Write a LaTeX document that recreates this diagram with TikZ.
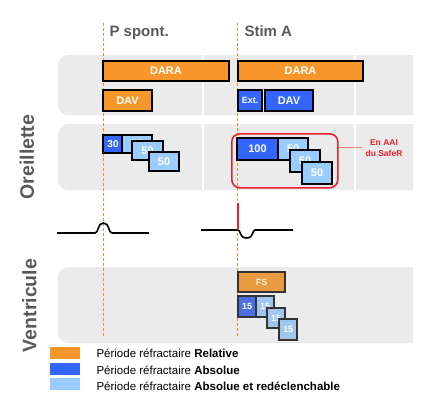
\documentclass[tikz,border=0pt]{standalone}
\usepackage{fontspec}
\setmainfont{Liberation Sans}
\usetikzlibrary{positioning}
\definecolor{relorange}{HTML}{F7962A}
\definecolor{absblue}{HTML}{3366FF}
\definecolor{retrig}{HTML}{99CCFF}
\definecolor{vorange}{HTML}{E99B42}
\definecolor{vblue}{HTML}{4A6FE0}
\definecolor{vlight}{HTML}{A0C6EE}
\definecolor{bandgray}{HTML}{EBEBEB}
\definecolor{labgray}{HTML}{595959}
\definecolor{aaired}{HTML}{E8212B}
\definecolor{markorange}{HTML}{F08A2A}

\begin{document}
\begin{tikzpicture}[x=1pt, y=-1pt,
  period/.style={draw=black, line width=1.4pt, inner sep=0pt, outer sep=0pt,
    anchor=north west, text=white},
  relbox/.style={period, fill=relorange, font=\bfseries\fontsize{11}{13}\selectfont},
  absbox/.style={period, fill=absblue, font=\bfseries\fontsize{11}{13}\selectfont},
  trigbox/.style={period, fill=retrig, font=\bfseries\fontsize{11}{13}\selectfont},
  vbox/.style={period, draw=black!80, font=\bfseries\fontsize{9}{11}\selectfont},
  band/.style={fill=bandgray, rounded corners=10pt},
  divider/.style={white, line width=1.5pt},
  dashmark/.style={fill=markorange},
  ecg/.style={black, line width=1.6pt},
  event/.style={anchor=base west, text=labgray, font=\bfseries\fontsize{15}{17}\selectfont},
  chamber/.style={rotate=90, text=labgray, font=\bfseries\fontsize{19.5}{22}\selectfont},
  swatch/.style={inner sep=0pt, minimum width=30, minimum height=12, anchor=north west},
  legtext/.style={anchor=base west, font=\fontsize{11.5}{13}\selectfont}
]
  \useasboundingbox (0,0) rectangle (438,408);
  % grey bands, cut off at the right
  \begin{scope}
    \clip (0,0) rectangle (413,408);
    \fill[band] (58,55) rectangle (430,115);
    \fill[band] (58,124) rectangle (430,190);
    \fill[band] (58,267) rectangle (430,343);
  \end{scope}
  \draw[divider] (203,55) -- (203,115);
  \draw[divider] (355,55) -- (355,115);
  \draw[divider] (203,124) -- (203,190);
  \draw[divider] (355,124) -- (355,190);
  % event markers (orange dashes)
  \foreach \xx in {103.5,237.5} {
    \foreach \yy in {23,28,...,335} {
      \fill[dashmark] (\xx-0.5,\yy) rectangle (\xx+0.5,\yy+3);
    }
  }
  \node[event] (pspont) at (106,36) {P spont.};
  \node[event] (stima) at (241,36) {Stim A};
  % chamber labels
  \node[chamber] (oreil) at (27,157) {Oreillette};
  \node[chamber] (ventr) at (29.5,305.5) {Ventricule};
  % atrium: DARA / DAV
  \node[relbox, minimum width=126, minimum height=20] (daraP) at (103,61) {DARA};
  \node[relbox, minimum width=125, minimum height=20] (daraS) at (238,61) {DARA};
  \node[relbox, minimum width=49, minimum height=21] (davP) at (103,90) {DAV};
  \node[absbox, minimum width=24, minimum height=21, font=\bfseries\fontsize{9}{11}\selectfont] (ext) at (238,90) {Ext.};
  \node[absbox, minimum width=48, minimum height=21] (davS) at (265,90) {DAV};
  % atrium: refractory after P spont.
  \node[absbox, minimum width=20, minimum height=18, font=\bfseries\fontsize{10}{12}\selectfont] (pA) at (103,135) {30};
  \node[trigbox, minimum width=30, minimum height=18] (pB) at (122,135) {50};
  \node[trigbox, minimum width=31, minimum height=19] (pC) at (132,141) {50};
  \node[trigbox, minimum width=30, minimum height=19] (pD) at (149,152) {50};
  % atrium: refractory after Stim A
  \node[draw=aaired, line width=1.6pt, rounded corners=8pt, inner sep=0pt,
    minimum width=106, minimum height=54, anchor=north west] (aai) at (231,133) {};
  \node[absbox, minimum width=41, minimum height=22] (sA) at (237,138) {100};
  \node[trigbox, minimum width=30, minimum height=22] (sB) at (278,138) {50};
  \node[trigbox, minimum width=30, minimum height=22] (sC) at (290,150) {50};
  \node[trigbox, minimum width=30, minimum height=22] (sD) at (302,162) {50};
  \node[text=aaired, align=center, font=\bfseries\fontsize{8.5}{11}\selectfont] (aainote) at (384,148) {En AAI\\du SafeR};
  \draw[aaired!60, line width=0.8pt] (aai.east |- 0,147) -- (aainote.west |- 0,147);
  % ECG traces
  \draw[ecg] (57,233) -- (95,233) .. controls (99,233) and (97,223) .. (103.5,223)
    .. controls (110,223) and (108,233) .. (112,233) -- (149,233);
  \draw[ecg] (201,230) -- (238,230) .. controls (241,230) and (239,238) .. (246.5,238)
    .. controls (254,238) and (252,230) .. (255,230) -- (293,230);
  \draw[aaired, line width=1.6pt] (238,203) -- (238,230);
  % ventricle
  \node[vbox, fill=vorange, text=white!85!orange, minimum width=47, minimum height=20] (fs) at (238,272) {FS};
  \node[vbox, fill=vblue, minimum width=18, minimum height=21] (vA) at (238,296) {15};
  \node[vbox, fill=vlight, minimum width=18, minimum height=21] (vB) at (256,296) {15};
  \node[vbox, fill=vlight, minimum width=18, minimum height=20] (vC) at (267,308) {15};
  \node[vbox, fill=vlight, minimum width=18, minimum height=21] (vD) at (279,319) {15};
  % legend
  \node[swatch, fill=relorange] (keyrel) at (50,347) {};
  \node[swatch, fill=absblue] (keyabs) at (50,363) {};
  \node[swatch, fill=retrig] (keytrig) at (50,378) {};
  \node[legtext] (txtrel) at (93,357) {Période réfractaire \textbf{Relative}};
  \node[legtext] (txtabs) at (93,374) {Période réfractaire \textbf{Absolue}};
  \node[legtext] (txttrig) at (93,390) {Période réfractaire \textbf{Absolue et redéclenchable}};
\end{tikzpicture}
\end{document}
